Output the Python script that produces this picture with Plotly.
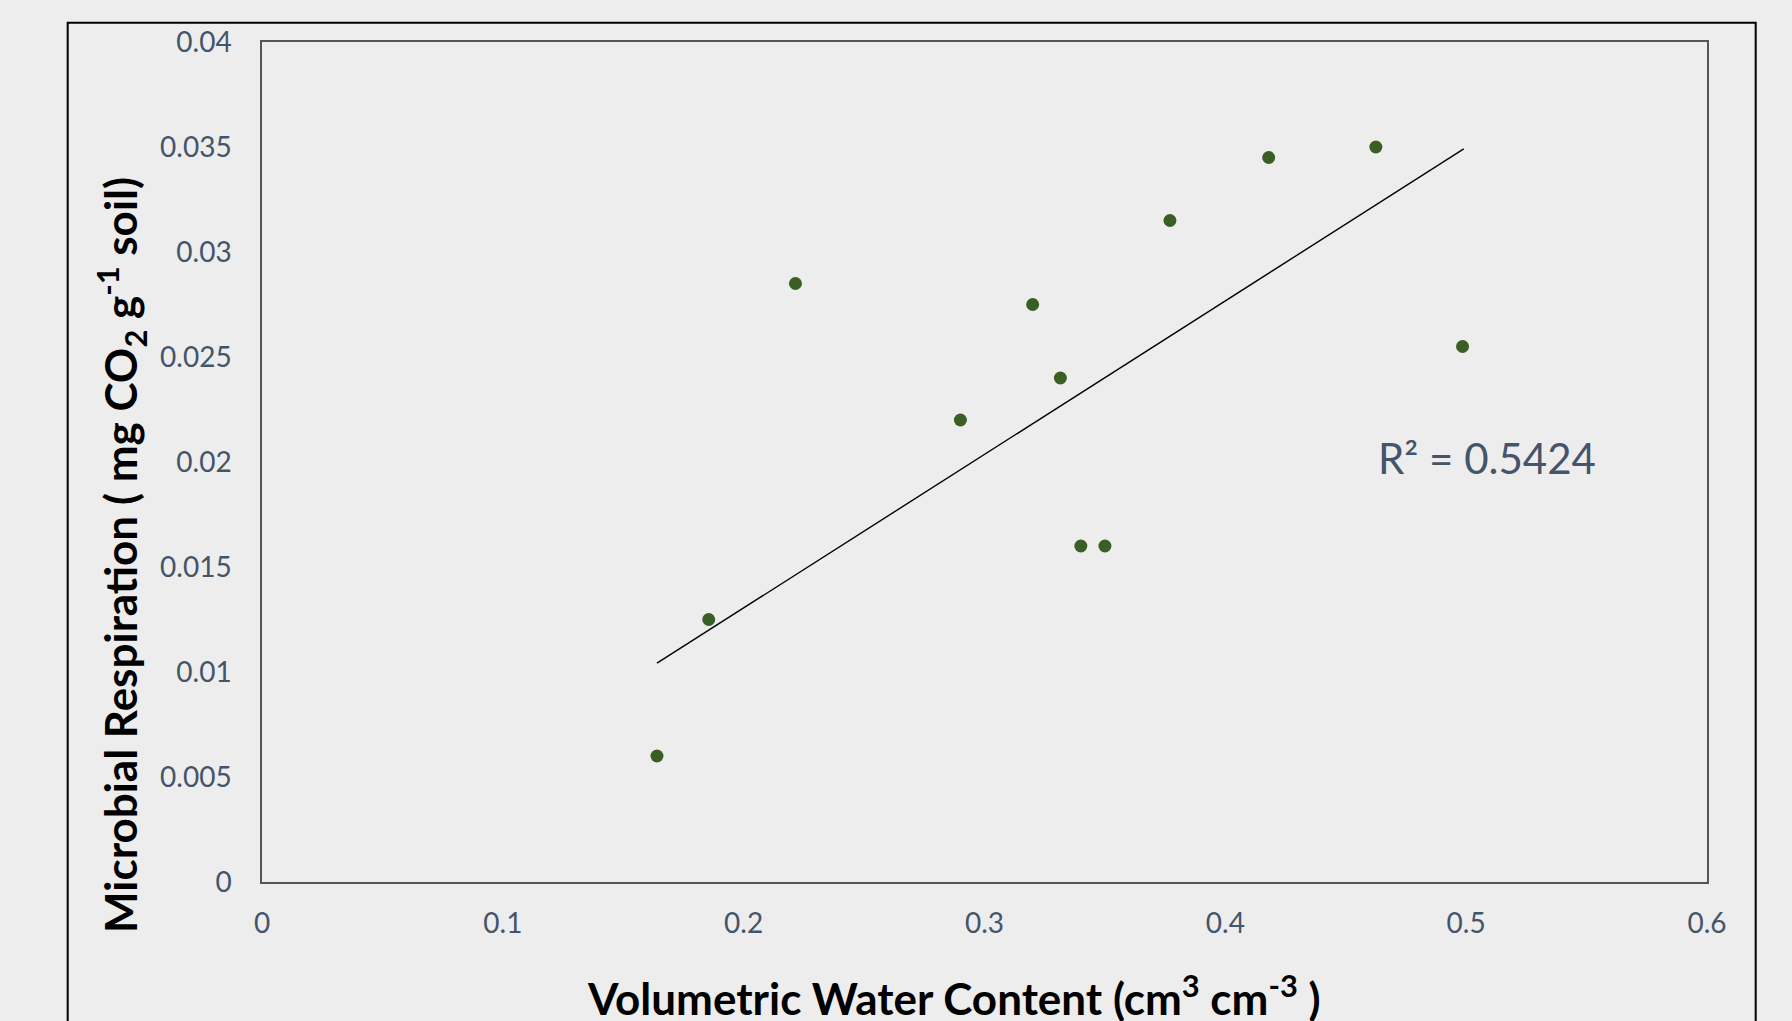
import plotly.graph_objects as go

# Data
water_content = [0.164, 0.1855, 0.2215, 0.290, 0.320, 0.3315, 0.340, 0.350, 0.377, 0.418, 0.4625, 0.4985]
respiration = [0.0060, 0.0125, 0.0285, 0.0220, 0.0275, 0.0240, 0.0160, 0.0160, 0.0315, 0.0345, 0.0350, 0.0255]

# Linear trendline endpoints as drawn in the reference
trend_x = [0.164, 0.499]
trend_y = [0.01042, 0.03491]

r2_label = "R² = 0.5424"
x_title = "Volumetric Water Content (cm<sup>3</sup> cm<sup>-3</sup> )"
y_title = "Microbial Respiration ( mg CO<sub>2</sub> g<sup>-1</sup> soil)"

W, H = 1792, 1021
L, R, T, B = 262, 85, 42, 139

FONT = "Lato, Carlito, Calibri, sans-serif"
TICK_COLOR = "#44546A"
BG = "#EDEDED"

fig = go.Figure()
fig.add_trace(go.Scatter(
    x=water_content, y=respiration, mode="markers",
    marker=dict(size=13, color="#3A5F24"),
    showlegend=False, hoverinfo="x+y",
))
fig.add_trace(go.Scatter(
    x=trend_x, y=trend_y, mode="lines",
    line=dict(color="black", width=1.4),
    showlegend=False, hoverinfo="skip",
))

axis_common = dict(
    showgrid=False, zeroline=False,
    showline=True, mirror=True, linecolor="#555555", linewidth=1.5,
    ticks="outside", tickcolor="rgba(0,0,0,0)",
    tickfont=dict(family=FONT, size=28, color=TICK_COLOR),
)

fig.update_xaxes(range=[0, 0.6], dtick=0.1, tick0=0, ticklen=16, **axis_common)
fig.update_yaxes(range=[0, 0.04], dtick=0.005, tick0=0, ticklen=23, **axis_common)

def px_to_paper_x(px):
    return (px - L) / (W - L - R)

def px_to_paper_y(py):
    return (H - B - py) / (H - T - B)

fig.add_annotation(
    text=r2_label, xref="paper", yref="paper",
    x=px_to_paper_x(1487), y=px_to_paper_y(458),
    xanchor="center", yanchor="middle", showarrow=False,
    font=dict(family=FONT, size=42, color=TICK_COLOR),
)
fig.add_annotation(
    text="<b>" + x_title + "</b>", xref="paper", yref="paper",
    x=px_to_paper_x(954), y=px_to_paper_y(995),
    xanchor="center", yanchor="middle", showarrow=False,
    font=dict(family=FONT, size=44, color="black"),
)
fig.add_annotation(
    text="<b>" + y_title + "</b>", xref="paper", yref="paper",
    x=px_to_paper_x(121), y=px_to_paper_y(555),
    xanchor="center", yanchor="middle", showarrow=False, textangle=-90,
    font=dict(family=FONT, size=44, color="black"),
)

# Outer chart frame
fig.add_shape(
    type="rect", xref="paper", yref="paper",
    x0=px_to_paper_x(67.7), x1=px_to_paper_x(1755.7),
    y0=px_to_paper_y(1040), y1=px_to_paper_y(22.7),
    line=dict(color="black", width=2), layer="below",
)

fig.update_layout(
    width=W, height=H,
    margin=dict(l=L, r=R, t=T, b=B, pad=0),
    paper_bgcolor=BG, plot_bgcolor=BG,
    font=dict(family=FONT),
)

fig.write_html(
    "out.html",
    config={"displayModeBar": False},
    post_script="document.body.style.margin='0';document.body.style.background='#EDEDED';document.body.style.overflow='hidden';",
)
